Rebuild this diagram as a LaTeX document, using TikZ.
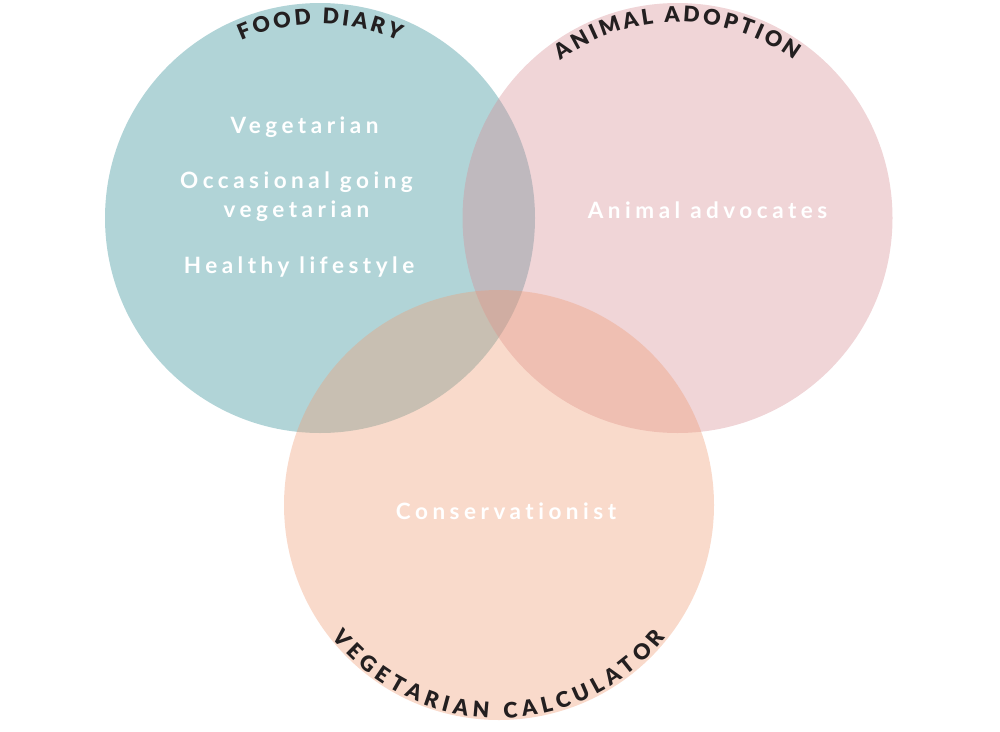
\documentclass[tikz,border=0pt]{standalone}
\usepackage{fontspec}
\usetikzlibrary{decorations.text}
\newfontfamily\vennfont{Lato}[LetterSpace=20,Ligatures=NoCommon]
\newfontfamily\ringfont{Lato Black}
\definecolor{DiaryTeal}{RGB}{44,139,147}
\definecolor{AdoptPink}{RGB}{214,140,147}
\definecolor{CalcPeach}{RGB}{239,155,115}
\definecolor{RingInk}{HTML}{231F20}
\tikzset{
  venn/.style={circle,minimum size=430pt,inner sep=0pt,fill opacity=0.37},
  group/.style={text=white,inner sep=0pt,align=center,
    font=\vennfont\bfseries\fontsize{22.5}{29}\selectfont},
  ring/.style={decorate,decoration={text along path,text align=center,text={#1}}}
}
\newcommand\ringfmt{\ringfont\fontsize{21.5}{21.5}\selectfont\color{RingInk}}

\begin{document}
\begin{tikzpicture}[x=1pt,y=1pt]
  \useasboundingbox (0,0) rectangle (1000,-731);
  % the three sets
  \node[venn,fill=DiaryTeal] (diary) at (320,-218) {};
  \node[venn,fill=AdoptPink] (adopt) at (677.5,-218) {};
  \node[venn,fill=CalcPeach] (calc) at (499,-505) {};
  % set names along the rims
  \path[ring={|\ringfmt|F{\kern3pt}O{\kern3pt}O{\kern3pt}D{\kern3pt} {\kern3pt}D{\kern3pt}I{\kern3pt}A{\kern3pt}R{\kern3pt}Y}]
    (diary.center) ++(160:194) arc[start angle=160,end angle=20,radius=194];
  \path[ring={|\ringfmt|A{\kern3pt}N{\kern3pt}I{\kern3pt}M{\kern3pt}A{\kern3pt}L{\kern3pt} {\kern3pt}A{\kern3pt}D{\kern3pt}O{\kern3pt}P{\kern3pt}T{\kern3pt}I{\kern3pt}O{\kern3pt}N}]
    (adopt.center) ++(160:196) arc[start angle=160,end angle=20,radius=196];
  \path[ring={|\ringfmt|V{\kern5pt}E{\kern5pt}G{\kern5pt}E{\kern5pt}T{\kern5pt}A{\kern5pt}R{\kern5pt}I{\kern5pt}A{\kern5pt}N{\kern5pt} {\kern5pt}C{\kern5pt}A{\kern5pt}L{\kern5pt}C{\kern5pt}U{\kern5pt}L{\kern5pt}A{\kern5pt}T{\kern5pt}O{\kern5pt}R}]
    (calc.center) ++(190:213) arc[start angle=190,end angle=350,radius=213];
  % groups
  \node[group,anchor=base] (veg) at (304.5,-133) {Vegetarian};
  \node[group] (occ) at (296.5,-197) {Occasional going\\vegetarian};
  \node[group,anchor=base] (health) at (299,-273) {Healthy lifestyle};
  \node[group,anchor=base] (advoc) at (707.5,-218) {Animal advocates};
  \node[group,anchor=base] (conserv) at (506,-519) {Conservationist};
\end{tikzpicture}
\end{document}
